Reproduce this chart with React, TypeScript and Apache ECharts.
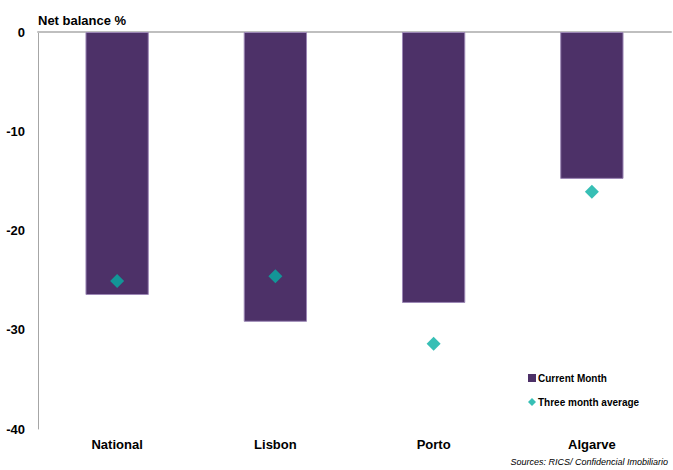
import React, { useEffect, useRef } from "react";
import * as echarts from "echarts";

const categories = ["National", "Lisbon", "Porto", "Algarve"];
const currentMonth = [-26.5, -29.2, -27.3, -14.8];
const threeMonthAvg = [-25.1, -24.6, -31.4, -16.1];
const yTicks = { min: -40, max: 0, interval: 10 };

export default function App() {
  const ref = useRef<HTMLDivElement>(null);
  useEffect(() => {
    const chart = echarts.init(ref.current!, null, { renderer: "svg" });
    const font = "Liberation Sans, Arial, sans-serif";
    chart.setOption({
      animation: false,
      textStyle: { fontFamily: font },
      title: [
        {
          text: "Net balance %",
          left: 33,
          top: 9,
          textStyle: { fontSize: 13, fontWeight: "bold", color: "#000", fontFamily: font },
        },
      ],
      graphic: [
        {
          type: "text",
          right: 5,
          top: 457,
          style: {
            text: "Sources: RICS/ Confidencial Imobiliario",
            fontSize: 9,
            fontStyle: "italic",
            fill: "#000",
            fontFamily: font,
          },
        },
      ],
      legend: {
        orient: "vertical",
        left: 523,
        top: 368,
        itemWidth: 8,
        itemHeight: 8,
        itemGap: 14,
        itemStyle: { borderWidth: 0 },
        textStyle: { fontSize: 10, fontWeight: "bold", color: "#000", fontFamily: font, padding: [0, 0, 0, -3] },
        data: [
          { name: "Current Month", icon: "rect" },
          { name: "Three month average", icon: "diamond" },
        ],
      },
      grid: { left: 38, right: 2, top: 32, bottom: 41, containLabel: false },
      xAxis: [
        {
          type: "category",
          data: categories,
          position: "bottom",
          axisLine: { show: false, onZero: false },
          axisTick: { show: false },
          axisLabel: { fontSize: 13, fontWeight: "bold", color: "#000", margin: 9, fontFamily: font },
        },
        {
          type: "category",
          data: categories,
          position: "top",
          axisLine: { show: true, onZero: false, lineStyle: { color: "#BFBFBF", width: 2 } },
          axisTick: { show: false },
          axisLabel: { show: false },
        },
      ],
      yAxis: {
        type: "value",
        min: yTicks.min,
        max: yTicks.max,
        interval: yTicks.interval,
        axisLine: { show: true, lineStyle: { color: "#A6A6A6", width: 1 } },
        axisTick: { show: false },
        splitLine: { show: false },
        axisLabel: { fontSize: 13, fontWeight: "bold", color: "#000", margin: 13, fontFamily: font },
      },
      series: [
        {
          name: "Current Month",
          type: "bar",
          data: currentMonth,
          barWidth: "40%",
          itemStyle: { color: "#4D3168", borderColor: "#9C87B5", borderWidth: 1 },
        },
        {
          name: "Three month average",
          type: "scatter",
          data: threeMonthAvg,
          symbol: "diamond",
          symbolSize: 14,
          itemStyle: { color: "#05AFA2" },
          z: 5,
        },
      ],
    });
    return () => chart.dispose();
  }, []);
  return (
    <div
      ref={ref}
      style={{ position: "absolute", left: 0, top: 0, width: 673, height: 470 }}
    />
  );
}
